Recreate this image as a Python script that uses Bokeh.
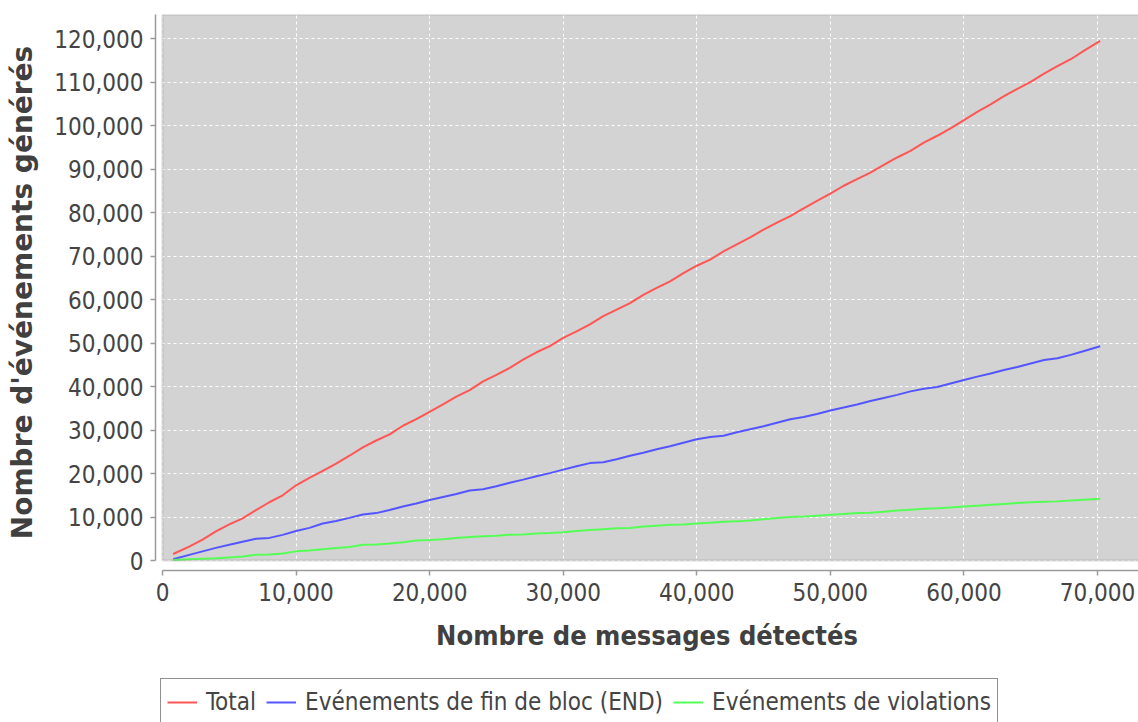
from bokeh.plotting import figure
from bokeh.layouts import column
from bokeh.models import Range1d, NumeralTickFormatter, FixedTicker, BoxAnnotation, Legend, LegendItem
from bokeh.embed import file_html
from bokeh.resources import INLINE

# ---------------- data ----------------
x_msgs = [800, 2000, 3000, 4000, 5000, 6000, 7000, 8000, 9000, 10000,
          11000, 12000, 13000, 14000, 15000, 16000, 17000, 18000, 19000, 20000,
          21000, 22000, 23000, 24000, 25000, 26000, 27000, 28000, 29000, 30000,
          31000, 32000, 33000, 34000, 35000, 36000, 37000, 38000, 39000, 40000,
          41000, 42000, 43000, 44000, 45000, 46000, 47000, 48000, 49000, 50000,
          51000, 52000, 53000, 54000, 55000, 56000, 57000, 58000, 59000, 60000,
          61000, 62000, 63000, 64000, 65000, 66000, 67000, 68000, 69000, 70200]

total = [1500, 3200, 4800, 6700, 8300, 9700, 11600, 13400, 15000, 17300,
         19000, 20600, 22300, 24100, 26000, 27600, 29000, 31000, 32500, 34200,
         35900, 37700, 39200, 41200, 42700, 44300, 46200, 47900, 49300, 51200,
         52700, 54300, 56200, 57700, 59200, 61100, 62700, 64200, 66100, 67800,
         69200, 71100, 72700, 74300, 76100, 77700, 79200, 81000, 82700, 84400,
         86200, 87700, 89200, 91000, 92700, 94200, 96100, 97700, 99400, 101300,
         103200, 104900, 106800, 108500, 110100, 112000, 113700, 115300, 117300, 119500]

fin_bloc = [300, 1300, 2100, 2900, 3600, 4300, 5000, 5200, 5900, 6800,
            7500, 8500, 9100, 9800, 10600, 10900, 11600, 12400, 13100, 13900,
            14600, 15300, 16100, 16400, 17100, 17900, 18600, 19400, 20100, 20900,
            21700, 22400, 22600, 23300, 24100, 24800, 25600, 26300, 27100, 27900,
            28400, 28700, 29500, 30200, 30900, 31700, 32500, 33000, 33700, 34500,
            35200, 35900, 36700, 37400, 38100, 38900, 39500, 39900, 40700, 41500,
            42300, 43000, 43800, 44500, 45300, 46100, 46500, 47300, 48200, 49300]

violations = [100, 300, 400, 500, 700, 900, 1300, 1400, 1600, 2100,
              2300, 2600, 2900, 3100, 3600, 3700, 3900, 4200, 4600, 4700,
              4900, 5200, 5400, 5600, 5700, 5900, 6000, 6200, 6300, 6500,
              6800, 7000, 7200, 7400, 7500, 7800, 8000, 8200, 8300, 8500,
              8700, 8900, 9000, 9200, 9500, 9800, 10000, 10100, 10300, 10500,
              10700, 10900, 11000, 11200, 11500, 11700, 11900, 12000, 12200, 12400,
              12600, 12800, 13000, 13200, 13400, 13500, 13600, 13800, 14000, 14200]

x_ticks = [0, 10000, 20000, 30000, 40000, 50000, 60000, 70000]
y_ticks = [0, 10000, 20000, 30000, 40000, 50000, 60000, 70000, 80000, 90000,
           100000, 110000, 120000]

series_names = ["Total", "Evénements de fin de bloc (END)", "Evénements de violations"]
series_colors = ["#ff5555", "#5555ff", "#55ff55"]

x_title = "Nombre de messages détectés"
y_title = "Nombre d'événements générés"

# ---------------- layout ----------------
X_START, X_END = -524, 73070
Y_START, Y_END = -2300, 125590
FONT = "DejaVu Sans Condensed, DejaVu Sans"

p = figure(width=1138, height=672,
           x_range=Range1d(X_START, X_END), y_range=Range1d(Y_START, Y_END),
           output_backend="svg", toolbar_location=None,
           min_border_left=155, min_border_right=0,
           min_border_top=14, min_border_bottom=102)
p.background_fill_color = "white"
p.border_fill_color = "white"
p.outline_line_color = None

bg = BoxAnnotation(left=0, right=X_END * 1.05, bottom=0, top=Y_END,
                   fill_color="#d3d3d3", fill_alpha=1.0, line_color=None, level="image")
p.add_layout(bg)

for g, ticks in ((p.xgrid, x_ticks), (p.ygrid, y_ticks)):
    g.ticker = FixedTicker(ticks=ticks)
    g.grid_line_color = "white"
    g.grid_line_dash = "3 3"
    g.grid_line_width = 1

series = (total, fin_bloc, violations)
for vals, color in zip(series, series_colors):
    p.line(x_msgs, vals, line_color=color, line_width=2)

outline = BoxAnnotation(left=0, right=X_END * 1.05, bottom=0, top=Y_END,
                        fill_alpha=0.0, line_color="#878787", line_width=2)
p.add_layout(outline)

for ax, ticks, bounds, title in ((p.xaxis[0], x_ticks, (0, X_END), x_title),
                                 (p.yaxis[0], y_ticks, (0, Y_END), y_title)):
    ax.ticker = FixedTicker(ticks=ticks)
    ax.formatter = NumeralTickFormatter(format="0,0")
    ax.bounds = bounds
    ax.axis_line_color = "#9a9a9a"
    ax.axis_line_width = 1.5
    ax.major_tick_line_color = "#9a9a9a"
    ax.major_tick_line_width = 1.5
    ax.major_tick_out = 5
    ax.major_tick_in = 0
    ax.minor_tick_line_color = None
    ax.major_label_text_font = FONT
    ax.major_label_text_font_size = "24px"
    ax.major_label_text_color = "#444444"
    ax.major_label_standoff = 7
    ax.axis_label = title
    ax.axis_label_text_font = FONT
    ax.axis_label_text_font_size = "27px"
    ax.axis_label_text_font_style = "bold"
    ax.axis_label_text_color = "#404040"

p.xaxis[0].axis_label_standoff = 16
p.yaxis[0].axis_label_standoff = 12
# the vertical title is drawn wider in the reference (not condensed)
p.yaxis[0].axis_label_text_font = "DejaVu Sans"
p.yaxis[0].axis_label_text_font_size = "28px"

# ---------------- legend strip ----------------
# the strip's ranges lie outside the data, so its key lines are only drawn in the legend
pl = figure(width=1138, height=50, x_range=Range1d(-20, -10), y_range=Range1d(-20, -10),
            x_axis_type=None, y_axis_type=None,
            output_backend="svg", toolbar_location=None,
            min_border_left=0, min_border_right=0, min_border_top=0, min_border_bottom=0)
pl.outline_line_color = None
pl.background_fill_color = "white"
pl.border_fill_color = "white"

keys = [pl.line(x_msgs, vals, line_color=c, line_width=2) for vals, c in zip(series, series_colors)]

legend = Legend(items=[LegendItem(label=n, renderers=[r]) for n, r in zip(series_names, keys)],
                orientation="horizontal", location=(5, -4))
legend.margin = 0
legend.padding = 6
legend.spacing = 10
legend.glyph_width = 30
legend.glyph_height = 34
legend.label_height = 34
legend.label_standoff = 9
legend.label_text_font = FONT
legend.label_text_font_size = "24px"
legend.label_text_color = "#444444"
legend.border_line_color = "#222222"
legend.border_line_width = 1.5
legend.background_fill_color = "white"
legend.background_fill_alpha = 1.0
pl.add_layout(legend, "center")

layout = column(p, pl, spacing=0)
open("out.html", "w").write(file_html(layout, INLINE))
